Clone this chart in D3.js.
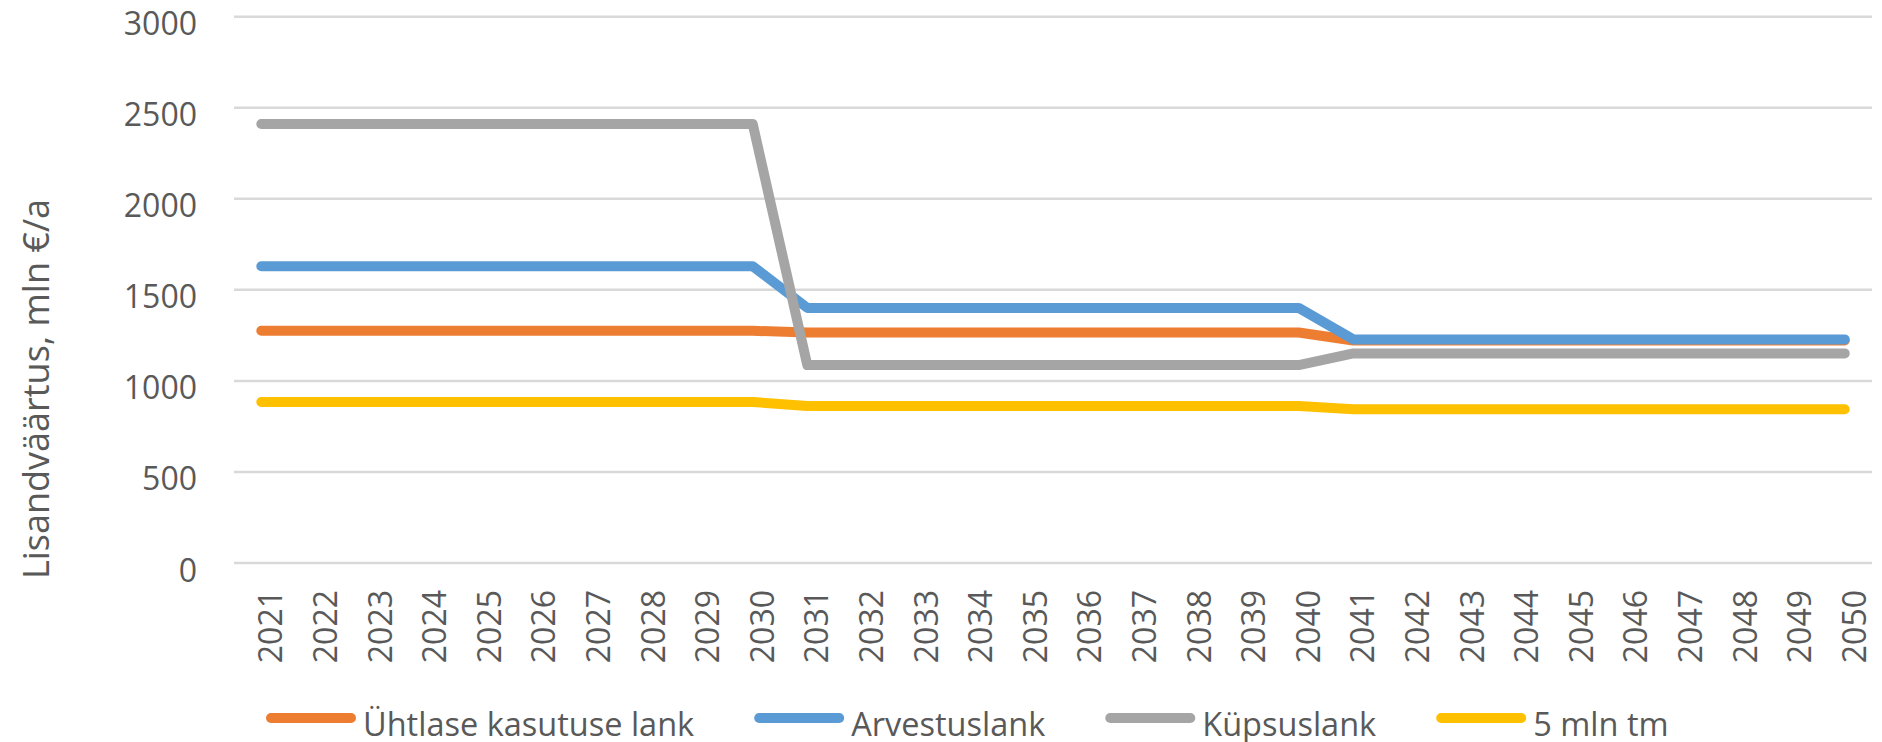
<!DOCTYPE html>
<html>
<head>
<meta charset="utf-8">
<script src="https://cdn.jsdelivr.net/npm/d3@7"></script>
<style>
  body { margin: 0; background: #fff; }
  text { font-family: "Open Sans", sans-serif; fill: #595959; }
</style>
</head>
<body>
<div id="chart"></div>
<script>
var years = ["2021","2022","2023","2024","2025","2026","2027","2028","2029","2030",
             "2031","2032","2033","2034","2035","2036","2037","2038","2039","2040",
             "2041","2042","2043","2044","2045","2046","2047","2048","2049","2050"];

// series values, mln €/a
var uhtlane  = [1275,1275,1275,1275,1275,1275,1275,1275,1275,1275,
                1266,1266,1266,1266,1266,1266,1266,1266,1266,1266,
                1222,1222,1222,1222,1222,1222,1222,1222,1222,1222];
var arvestus = [1630,1630,1630,1630,1630,1630,1630,1630,1630,1630,
                1401,1401,1401,1401,1401,1401,1401,1401,1401,1401,
                1228,1228,1228,1228,1228,1228,1228,1228,1228,1228];
var kypsus   = [2411,2411,2411,2411,2411,2411,2411,2411,2411,2411,
                1087,1087,1087,1087,1087,1087,1087,1087,1087,1087,
                1151,1151,1151,1151,1151,1151,1151,1151,1151,1151];
var mln5     = [884,884,884,884,884,884,884,884,884,884,
                862,862,862,862,862,862,862,862,862,862,
                844,844,844,844,844,844,844,844,844,844];

var seriesNames = ["Ühtlase kasutuse lank", "Arvestuslank", "Küpsuslank", "5 mln tm"];
var seriesColors = ["#ED7D31", "#5B9BD5", "#A5A5A5", "#FFC000"];
var yTicks = [0, 500, 1000, 1500, 2000, 2500, 3000];
var yTitle = "Lisandväärtus, mln €/a";

var width = 1882, height = 742;
var plotLeft = 234, plotRight = 1872, plotTop = 16.7, plotBottom = 563;

var svg = d3.select("#chart")
            .append("svg")
            .attr("width", width)
            .attr("height", height);

var x = d3.scaleBand().domain(years).range([plotLeft, plotRight]);
var y = d3.scaleLinear().domain([0, 3000]).range([plotBottom, plotTop]);

function cx(d) { return x(d) + x.bandwidth()/2; }

// gridlines
svg.selectAll("line.grid")
   .data(yTicks)
   .enter()
   .append("line")
   .attr("class", "grid")
   .attr("x1", plotLeft)
   .attr("x2", plotRight)
   .attr("y1", function(d) { return y(d); })
   .attr("y2", function(d) { return y(d); })
   .attr("stroke", "#D9D9D9")
   .attr("stroke-width", 2.5);

// y tick labels
svg.selectAll("text.ytick")
   .data(yTicks)
   .enter()
   .append("text")
   .attr("class", "ytick")
   .attr("x", 197)
   .attr("y", function(d) { return y(d) + 18.5; })
   .attr("text-anchor", "end")
   .style("font-size", "32px")
   .text(function(d) { return d; });

// x tick labels (rotated)
svg.selectAll("text.xtick")
   .data(years)
   .enter()
   .append("text")
   .attr("class", "xtick")
   .attr("transform", function(d) { return "translate(" + (cx(d) + 21) + ",590) rotate(-90)"; })
   .attr("text-anchor", "end")
   .style("font-size", "32px")
   .text(function(d) { return d; });

// y title
svg.append("text")
   .attr("transform", "translate(48.5,389) rotate(-90)")
   .attr("text-anchor", "middle")
   .style("font-size", "36px")
   .text(yTitle);

// lines
var allSeries = [uhtlane, arvestus, kypsus, mln5];
var line = d3.line()
             .x(function(d, i) { return cx(years[i]); })
             .y(function(d) { return y(d); });

svg.selectAll("path.series")
   .data(allSeries)
   .enter()
   .append("path")
   .attr("class", "series")
   .attr("d", line)
   .attr("fill", "none")
   .attr("stroke", function(d, i) { return seriesColors[i]; })
   .attr("stroke-width", 10)
   .attr("stroke-linecap", "round")
   .attr("stroke-linejoin", "round");

// legend
var lx = 271, ly = 718;
seriesNames.forEach(function(name, i) {
  var g = svg.append("g").attr("class", "legend");
  g.append("line")
   .attr("x1", lx).attr("x2", lx + 80)
   .attr("y1", ly).attr("y2", ly)
   .attr("stroke", seriesColors[i])
   .attr("stroke-width", 10)
   .attr("stroke-linecap", "round");
  var t = g.append("text")
   .attr("x", lx + 92)
   .attr("y", ly + 18)
   .style("font-size", "32.5px")
   .text(name);
  lx = lx + 92 + t.node().getComputedTextLength() + 65;
});
</script>
</body>
</html>
